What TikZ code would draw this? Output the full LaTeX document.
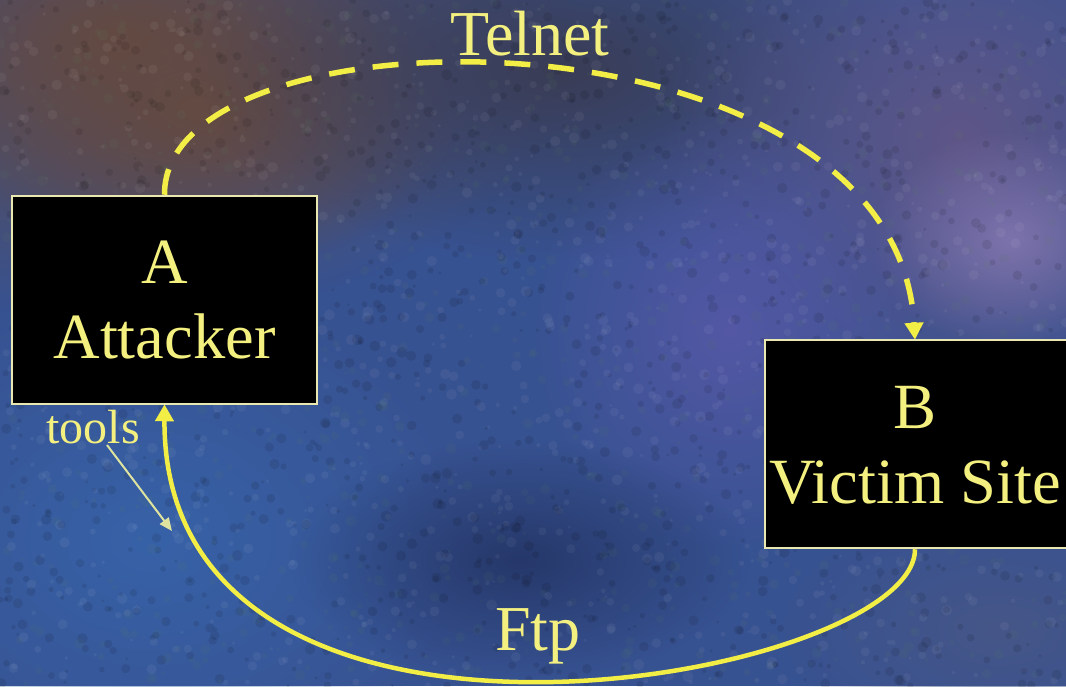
\documentclass[tikz,border=0pt]{standalone}
\usepackage{fontspec}
\setmainfont{Liberation Serif}
\newfontfamily\labelserif{Liberation Serif}
\usetikzlibrary{arrows.meta,fadings}

% palette
\definecolor{bgbase}{RGB}{55,82,145}
\definecolor{bgbrown}{RGB}{100,74,66}
\definecolor{bgslate}{RGB}{58,60,84}
\definecolor{bgpurple}{RGB}{95,86,135}
\definecolor{bglavender}{RGB}{125,115,172}
\definecolor{bgviolet}{RGB}{84,88,165}
\definecolor{bgdeep}{RGB}{38,56,106}
\definecolor{bglight}{RGB}{56,98,168}
\definecolor{bggrey}{RGB}{70,86,136}
\definecolor{speckgreen}{RGB}{90,130,95}
\definecolor{labelyellow}{RGB}{244,240,128}
\definecolor{lineyellow}{RGB}{242,238,70}
\definecolor{frameyellow}{RGB}{232,232,176}
\definecolor{toolsline}{RGB}{222,228,160}

\tikzfading[name=softedge, inner color=transparent!0, outer color=transparent!100]

\tikzset{
  patch/.style={path fading=softedge},
  hostbox/.style={draw=frameyellow, line width=2.5pt, fill=black,
    minimum height=208pt, inner sep=0pt},
  hosttext/.style={text=labelyellow, align=center,
    font=\labelserif\fontsize{64.5}{75}\selectfont},
  linklabel/.style={text=labelyellow, anchor=base,
    font=\labelserif\fontsize{64}{72}\selectfont},
  smalllabel/.style={text=labelyellow, anchor=base,
    font=\labelserif\fontsize{48}{55}\selectfont},
  telnetlink/.style={draw=lineyellow, line width=5.5pt,
    dash pattern=on 26pt off 18pt,
    -{Triangle[length=17pt,width=18pt]}},
  ftplink/.style={draw=lineyellow, line width=4.5pt,
    -{Triangle[length=17pt,width=18pt]}},
  toolsarrow/.style={draw=toolsline, line width=2pt,
    -{Triangle[length=13pt,width=11pt]}}
}

\begin{document}
\begin{tikzpicture}[x=1pt,y=-1pt]
\useasboundingbox (0,0) rectangle (1066,686);
\begin{scope}
\clip (0,0) rectangle (1066,686);
% mottled backdrop
\fill[bgbase] (0,0) rectangle (1066,686);
\fill[bglight, patch] (150,540) ellipse[x radius=320pt, y radius=250pt];
\fill[bgbrown, patch] (120,40) ellipse[x radius=460pt, y radius=280pt];
\fill[bgbrown, patch] (200,110) ellipse[x radius=260pt, y radius=160pt];
\fill[bgslate, patch] (560,70) ellipse[x radius=360pt, y radius=190pt];
\fill[bgpurple, patch] (960,140) ellipse[x radius=300pt, y radius=280pt];
\fill[bglavender, patch] (1010,240) ellipse[x radius=140pt, y radius=110pt];
\fill[bgviolet, patch] (730,330) ellipse[x radius=200pt, y radius=220pt];
\fill[bgdeep, patch] (520,560) ellipse[x radius=230pt, y radius=120pt];
\fill[bggrey, patch] (1000,630) ellipse[x radius=230pt, y radius=130pt];
% fine grain
\pgfmathsetseed{11}
\foreach \i in {1,...,3000}{
  \pgfmathsetmacro\px{rnd*1066}
  \pgfmathsetmacro\py{rnd*686}
  \pgfmathsetmacro\pr{1.5+rnd*4}
  \pgfmathsetmacro\pc{rnd}
  \ifdim\pc pt<0.4pt
    \fill[black, fill opacity=0.09] (\px,\py) circle[radius=\pr pt];
  \else\ifdim\pc pt<0.75pt
    \fill[white, fill opacity=0.05] (\px,\py) circle[radius=\pr pt];
  \else
    \fill[speckgreen, fill opacity=0.09] (\px,\py) circle[radius=\pr pt];
  \fi\fi
}

% hosts
\node[hostbox, minimum width=305pt, hosttext] (A) at (164.5,300) {A\\Attacker};
\node[hostbox, minimum width=320pt] (B) at (925,444) {};
\node[hosttext] (Bt) at (915,445) {B\\Victim Site};

% links
\coordinate (Bin) at (Bt |- B.north);
\coordinate (Bout) at (Bt |- B.south);
\draw[telnetlink] (A.north) .. controls (163,0) and (895,0) .. ([yshift=-1pt]Bin);
\draw[ftplink] (Bout) .. controls (915,680) and (163,816) .. ([yshift=1pt]A.south);

% labels
\node[linklabel] (telnet) at (530,55) {Telnet};
\node[linklabel] (ftp) at (538,650) {Ftp};
\node[smalllabel] (tools) at (93,443) {tools};
\coordinate (toolsend) at (172,531);
\draw[toolsarrow] ([xshift=14pt,yshift=2pt]tools.south) -- (toolsend);
\end{scope}
\end{tikzpicture}
\end{document}
